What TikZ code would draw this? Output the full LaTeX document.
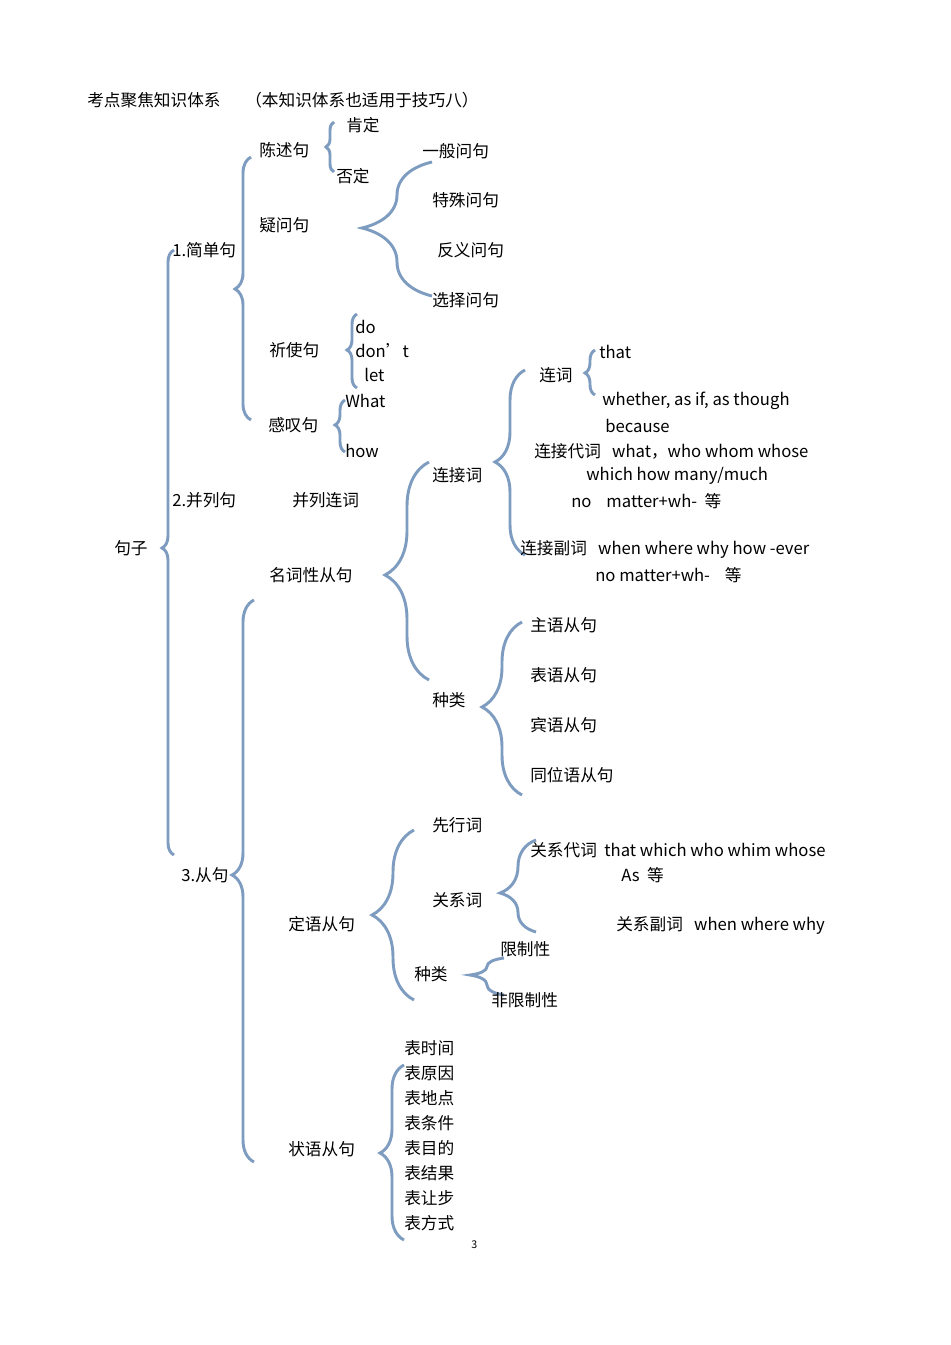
\documentclass[tikz,border=0pt]{standalone}
\usepackage{fontspec}
\setmainfont{Noto Sans CJK SC}
\usetikzlibrary{decorations.pathreplacing}
\definecolor{bc}{HTML}{7E9CC0}
\tikzset{t/.style={anchor=west,inner sep=0pt,font=\fontsize{12.5}{14}\selectfont},
brcs/.style={draw=bc,line width=2.2pt,decorate}}
\newcommand\brc[5]{%
 \pgfmathsetmacro\bd{#1-#4}%
 \pgfmathsetmacro\bam{1.5*(#1-#4)}%
 \pgfmathsetmacro\ba{(#3-#5)/(#3-#2)}%
 \draw[brcs,decoration={brace,amplitude=\bam pt,aspect=\ba}] (#1+\bd,#3) -- (#1+\bd,#2);}
\begin{document}
\begin{tikzpicture}[x=0.75pt,y=-0.75pt]
\useasboundingbox (0,0) rectangle (950,1345);
\node[t] (h1) at (87,100) {考点聚焦知识体系};
\node[t] (h2) at (245,100) {（本知识体系也适用于技巧八）};
\node[t] (jz) at (114,548) {句子};
\brc{168}{250}{855}{162}{548}
\node[t] (s1) at (172,250) {1.简单句};
\brc{243}{157}{420}{235}{289}
\node[t] (cs) at (259,150) {陈述句};
\brc{330}{122}{172}{326}{147}
\node[t] (kd) at (346,125) {肯定};
\node[t] (fd) at (336,176) {否定};
\node[t] (yw) at (259,225) {疑问句};
\brc{397}{162}{296}{362}{228}
\node[t] (q1) at (422,151) {一般问句};
\node[t] (q2) at (432,200) {特殊问句};
\node[t] (q3) at (437,250) {反义问句};
\node[t] (q4) at (432,300) {选择问句};
\node[t] (qs) at (269,350) {祈使句};
\brc{352}{314}{388}{347}{350}
\node[t] (do) at (355,327) {do};
\node[t] (dn) at (355,351) {don’t};
\node[t] (lt) at (364,375) {let};
\node[t] (gt) at (268,425) {感叹句};
\brc{340}{400}{452}{335}{425}
\node[t] (wh) at (345,401) {What};
\node[t] (hw) at (345,451) {how};
\node[t] (s2) at (172,500) {2.并列句};
\node[t] (bl) at (292,500) {并列连词};
\node[t] (s3) at (181,875) {3.从句};
\brc{243}{600}{1162}{232}{875}
\node[t] (mc) at (269,575) {名词性从句};
\brc{407}{462}{680}{385}{575}
\node[t] (ljc) at (432,475) {连接词};
\brc{510}{370}{555}{495}{462}
\node[t] (lc) at (539,375) {连词};
\brc{590}{350}{395}{585}{373}
\node[t] (th) at (599,352) {that};
\node[t] (wt) at (602,401) {whether, as if, as though};
\node[t] (bc2) at (605,426) {because};
\node[t] (ld) at (534,451) {连接代词\ \ \ what，who whom whose};
\node[t] (wm) at (586,476) {which how many/much};
\node[t] (nm) at (571,501) {no\ \ \ \ matter+wh-\ \ 等};
\node[t] (lf) at (520,549) {连接副词\ \ \ when where why how -ever};
\node[t] (nm2) at (595,575) {no matter+wh-\ \ \ \ 等};
\node[t] (zl) at (432,700) {种类};
\brc{502}{622}{795}{482}{707}
\node[t] (c1) at (530,625) {主语从句};
\node[t] (c2) at (530,675) {表语从句};
\node[t] (c3) at (530,725) {宾语从句};
\node[t] (c4) at (530,775) {同位语从句};
\node[t] (dy) at (288,924) {定语从句};
\brc{393}{830}{1000}{372}{915}
\node[t] (xx) at (432,825) {先行词};
\node[t] (gx) at (432,900) {关系词};
\brc{518}{840}{932}{500}{893}
\node[t] (gd) at (530,850) {关系代词\ \ that which who whim whose};
\node[t] (as) at (621,875) {As\ \ 等};
\node[t] (gf) at (616,925) {关系副词\ \ \ when where why};
\node[t] (zl2) at (414,974) {种类};
\brc{487}{958}{995}{470}{975}
\node[t] (xz) at (500,949) {限制性};
\node[t] (fx) at (491,1000) {非限制性};
\node[t] (zy) at (288,1149) {状语从句};
\brc{392}{1065}{1240}{380}{1153}
\foreach \s [count=\i] in {表时间,表原因,表地点,表条件,表目的,表结果,表让步,表方式}
  \node[t] (a\i) at (404,1023+25*\i) {\s};
\node[t,font=\fontsize{8}{9}\selectfont] (pg) at (471,1245) {3};
\end{tikzpicture}
\end{document}
